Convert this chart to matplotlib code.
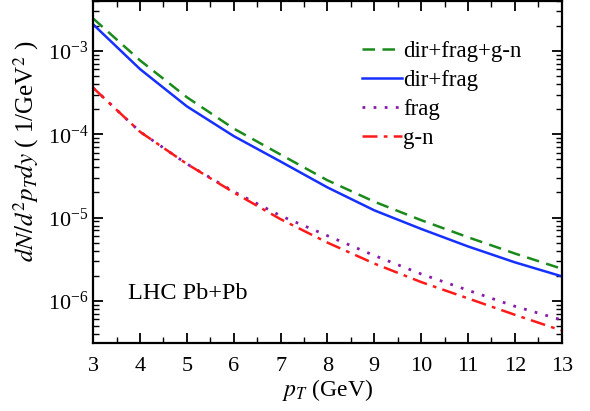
import matplotlib
matplotlib.use("Agg")
import matplotlib.pyplot as plt
from matplotlib.ticker import LogLocator, MultipleLocator, NullFormatter

pt = [3, 4, 5, 6, 7, 8, 9, 10, 11, 12, 13]
total = [2.45e-3, 7.7e-4, 2.78e-4, 1.17e-4, 5.7e-5, 2.8e-5, 1.55e-5, 9.3e-6, 5.8e-6, 3.7e-6, 2.43e-6]
dir_frag = [2.08e-3, 6.05e-4, 2.16e-4, 9.5e-5, 4.7e-5, 2.3e-5, 1.22e-5, 7.3e-6, 4.5e-6, 2.9e-6, 1.97e-6]
frag = [3.6e-4, 1.07e-4, 4.4e-5, 2.05e-5, 1.05e-5, 6.05e-6, 3.5e-6, 2.1e-6, 1.34e-6, 8.6e-7, 5.9e-7]
gn = [3.6e-4, 1.07e-4, 4.4e-5, 2.0e-5, 9.55e-6, 5.0e-6, 2.8e-6, 1.68e-6, 1.07e-6, 6.8e-7, 4.4e-7]
labels = ["dir+frag+g-n", "dir+frag", "frag", "g-n"]

plt.rcParams['font.family'] = ['Liberation Serif', 'DejaVu Serif']
plt.rcParams['mathtext.fontset'] = 'stix'

fig = plt.figure(figsize=(5.9, 4.11), dpi=100)
ax = fig.add_axes([0.158, 0.165, 0.794, 0.833])

ax.plot(pt, total, color='#1a8a1a', ls=(0, (5, 3)), lw=1.8, label=labels[0])
ax.plot(pt, dir_frag, color='#1530ff', ls='-', lw=1.8, label=labels[1])
ax.plot(pt, frag, color='#8a1aa8', ls=(0, (1, 3)), lw=2.0, label=labels[2])
ax.plot(pt, gn, color='#ff1a1a', ls=(0, (6, 2.5, 1.5, 2.5)), lw=1.8, label=labels[3])

ax.set_yscale('log')
ax.set_xlim(3, 13)
ax.set_ylim(3.1e-7, 4.0e-3)
ax.xaxis.set_major_locator(MultipleLocator(1))
ax.xaxis.set_minor_locator(MultipleLocator(0.5))
ax.yaxis.set_major_locator(LogLocator(base=10, numticks=10))
ax.yaxis.set_minor_locator(LogLocator(base=10, subs=range(2, 10), numticks=20))
ax.yaxis.set_minor_formatter(NullFormatter())
ax.tick_params(which='both', direction='in', top=True, right=True, labelsize=16)
ax.tick_params(which='major', length=7, width=1.3)
ax.tick_params(which='minor', length=4, width=1.0)
ax.tick_params(axis='x', pad=10)
for s in ax.spines.values():
    s.set_linewidth(1.6)

ax.set_xlabel(r'$p_T$ (GeV)', fontsize=17, labelpad=1)
ax.set_ylabel(r'$dN/d^2p_Tdy$ ( 1/GeV$^2$ )', fontsize=18)
ax.yaxis.set_label_coords(-0.112, 0.56)

ax.text(0.075, 0.13, 'LHC Pb+Pb', transform=ax.transAxes, fontsize=17.5)

ax.legend(loc='upper left', bbox_to_anchor=(0.573, 0.882), frameon=False, fontsize=16.5,
          handlelength=1.75, handletextpad=0.05, labelspacing=0.34, borderaxespad=0,
          borderpad=0)

fig.savefig('out.png', dpi=100)
